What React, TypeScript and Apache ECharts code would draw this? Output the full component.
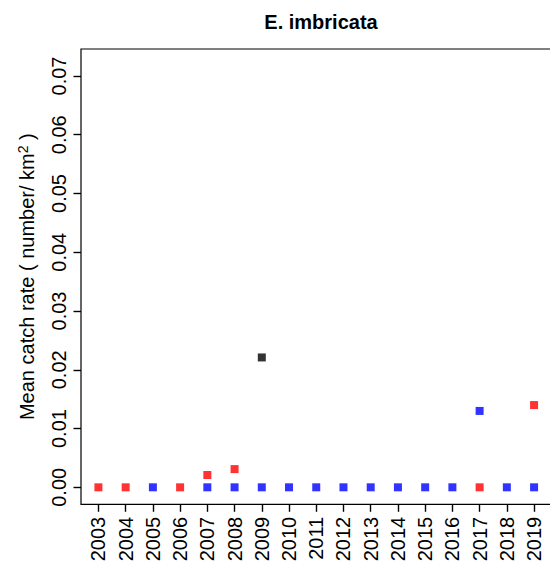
import React, { useEffect, useRef } from "react";
import * as echarts from "echarts";

const years = [2003, 2004, 2005, 2006, 2007, 2008, 2009, 2010, 2011, 2012, 2013, 2014, 2015, 2016, 2017, 2018, 2019];
const yTickMin = 0;
const yTickMax = 0.07;
const yTickStep = 0.01;

const redYears = [2003, 2004, 2006, 2007, 2008, 2017, 2019];
const redValues = [0, 0, 0, 0.0021, 0.0031, 0, 0.014];

const blueYears = [2005, 2007, 2008, 2009, 2010, 2011, 2012, 2013, 2014, 2015, 2016, 2017, 2018, 2019];
const blueValues = [0, 0, 0, 0, 0, 0, 0, 0, 0, 0, 0, 0.013, 0, 0];

const blackYears = [2009];
const blackValues = [0.0221];

const FONT = "'Liberation Sans', Arial, sans-serif";

function pairs(xs: number[], ys: number[]) {
  return xs.map((x, i) => [x, ys[i]]);
}

const PLOT_LEFT = 81;
const PLOT_TOP = 49;
const PLOT_W = 470.5;
const PLOT_H = 455.3;
const X_MIN = 2002.36;
const X_MAX = 2019.64;
const Y_MIN = -0.00289;
const Y_MAX = 0.07459;

export default function App() {
  const ref = useRef<HTMLDivElement>(null);
  useEffect(() => {
    if (!ref.current) return;
    const chart = echarts.init(ref.current, undefined, { renderer: "svg" });
    const sym = { symbol: "rect", symbolSize: 8 };

    const pxPerYear = PLOT_W / (X_MAX - X_MIN);
    const firstX = PLOT_LEFT + (years[0] - X_MIN) * pxPerYear;
    const catW = pxPerYear * years.length;
    const catLeft = firstX - pxPerYear / 2;

    const pxPerUnit = PLOT_H / (Y_MAX - Y_MIN);
    const yBottomTick = PLOT_TOP + (Y_MAX - yTickMin) * pxPerUnit;
    const yTopTick = PLOT_TOP + (Y_MAX - yTickMax) * pxPerUnit;

    const hiddenAxis = { show: false };
    const tickStyle = { show: true, inside: false, length: 7.5, lineStyle: { color: "#000", width: 1.4 } };
    const labelStyle = { fontFamily: FONT, fontSize: 20, color: "#000" };

    chart.setOption({
      animation: false,
      backgroundColor: "#ffffff",
      title: {
        text: "E. imbricata",
        left: 316,
        top: 7,
        textAlign: "center",
        textStyle: { fontFamily: FONT, fontSize: 20, fontWeight: "bold", color: "#000" },
      },
      grid: [
        {
          left: PLOT_LEFT,
          top: PLOT_TOP,
          width: PLOT_W,
          height: PLOT_H,
          show: true,
          borderColor: "#000",
          borderWidth: 1.2,
          backgroundColor: "transparent",
        },
        { left: catLeft, top: PLOT_TOP, width: catW, height: PLOT_H },
        { left: PLOT_LEFT, top: yTopTick, width: PLOT_W, height: yBottomTick - yTopTick },
      ],
      xAxis: [
        { type: "value", gridIndex: 0, min: X_MIN, max: X_MAX, ...hiddenAxis },
        {
          type: "category",
          gridIndex: 1,
          data: years.map(String),
          boundaryGap: true,
          position: "bottom",
          axisLine: { show: false, onZero: false },
          splitLine: { show: false },
          axisTick: { ...tickStyle, alignWithLabel: true, interval: 0 },
          axisLabel: { ...labelStyle, interval: 0, rotate: 90, margin: 12.5 },
        },
        { type: "value", gridIndex: 2, min: 0, max: 1, ...hiddenAxis },
      ],
      yAxis: [
        {
          type: "value",
          gridIndex: 0,
          min: Y_MIN,
          max: Y_MAX,
          show: true,
          axisLine: { show: false, onZero: false },
          axisTick: { show: false },
          axisLabel: { show: false },
          splitLine: { show: false },
          name: "Mean catch rate ( number/ km{sup|2} )",
          nameLocation: "middle",
          nameRotate: 90,
          nameGap: 43,
          nameTextStyle: {
            fontFamily: FONT,
            fontSize: 20,
            color: "#000",
            rich: {
              sup: { fontFamily: FONT, fontSize: 14, color: "#000", verticalAlign: "top", padding: [0, 0, 8, 0] },
            },
          },
        },
        { type: "value", gridIndex: 1, min: 0, max: 1, ...hiddenAxis },
        {
          type: "value",
          gridIndex: 2,
          min: yTickMin,
          max: yTickMax,
          interval: yTickStep,
          position: "left",
          axisLine: { show: false, onZero: false },
          splitLine: { show: false },
          axisTick: tickStyle,
          axisLabel: {
            ...labelStyle,
            rotate: 90,
            margin: 12,
            formatter: (v: number) => v.toFixed(2),
          },
        },
      ],
      series: [
        { type: "scatter", xAxisIndex: 0, yAxisIndex: 0, data: pairs(redYears, redValues), itemStyle: { color: "#ff0000" }, ...sym },
        { type: "scatter", xAxisIndex: 0, yAxisIndex: 0, data: pairs(blueYears, blueValues), itemStyle: { color: "#0000ff" }, ...sym },
        { type: "scatter", xAxisIndex: 0, yAxisIndex: 0, data: pairs(blackYears, blackValues), itemStyle: { color: "#000000" }, ...sym },
      ],
    });
    return () => chart.dispose();
  }, []);
  return (
    <div style={{ position: "fixed", left: 0, top: 0, width: 550, height: 572, overflow: "hidden", background: "#fff" }}>
      <div ref={ref} style={{ width: 560, height: 572 }} />
    </div>
  );
}
